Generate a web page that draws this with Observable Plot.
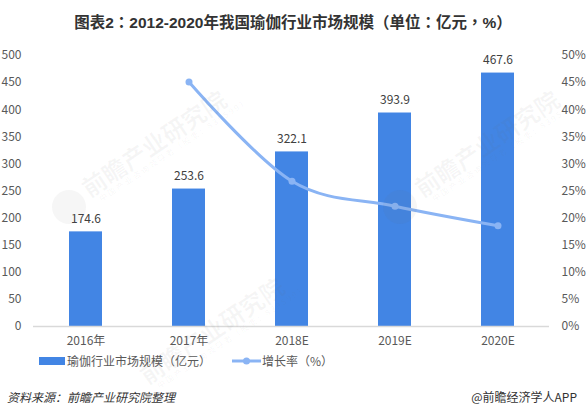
<!DOCTYPE html>
<html><head><meta charset="utf-8">
<script src="https://cdn.jsdelivr.net/npm/d3@7"></script>
<script src="https://cdn.jsdelivr.net/npm/@observablehq/plot@0.6"></script>
<style>
html,body{margin:0;padding:0;background:#fff;overflow:hidden}
body{width:586px;height:416px;position:relative;font-family:"Noto Sans CJK SC","Noto Sans",sans-serif;color:#595959}
#title{position:absolute;left:0;top:12px;width:586px;text-align:center;font-family:"Liberation Sans","Noto Sans CJK TC",sans-serif;font-size:15.5px;font-weight:700;color:#333;line-height:22px;white-space:nowrap}
#chart{position:absolute;left:0;top:42px}
#legend{position:absolute;top:352px;left:39px;height:18px;font-size:12px;line-height:18px;white-space:nowrap}
#legend .sw{position:absolute;top:5px;left:0;width:26px;height:8px;background:#4285e4}
#legend .t1{position:absolute;left:28px;top:0}
#legend svg{position:absolute;left:193px;top:0}
#legend .t2{position:absolute;left:223px;top:0}
#src{position:absolute;left:7px;top:388px;font-size:12px;font-style:italic;color:#333;line-height:18px;white-space:nowrap}
#brand{position:absolute;right:9px;top:388px;font-size:12px;color:#333;line-height:18px;white-space:nowrap}
.wm{position:absolute;pointer-events:none;transform:rotate(-34deg);transform-origin:0 50%;white-space:nowrap;color:rgba(110,110,110,.06);font-size:24px;font-weight:700;line-height:28px}
.wm small{position:absolute;left:8px;top:26px;font-size:8px;font-weight:400;letter-spacing:2px;line-height:10px}
.logo{position:absolute;pointer-events:none;width:34px;height:34px;border-radius:50%;background:rgba(110,110,110,.06)}
</style></head><body>
<div id="title">图表2：2012-2020年我国瑜伽行业市场规模（单位：亿元，%）</div>
<div id="chart"></div>
<div class="logo" style="left:52px;top:190px"></div>
<div class="wm" style="left:84px;top:176px">前瞻产业研究院<small>中国产业咨询领导者（股票：839599）</small></div>
<div class="wm" style="left:142px;top:363px">前瞻产业研究院<small>中国产业咨询领导者（股票：839599）</small></div>
<div class="logo" style="left:383px;top:190px"></div>
<div class="wm" style="left:417px;top:176px">前瞻产业研究院<small>中国产业咨询领导者（股票：839599）</small></div>
<div id="legend"><span class="sw"></span><span class="t1">瑜伽行业市场规模（亿元）</span>
<svg width="30" height="18"><line x1="0" x2="29" y1="9" y2="9" stroke="#8ab4f4" stroke-width="3"/><circle cx="14.500" cy="9" r="3.500" fill="#8ab4f4"/></svg>
<span class="t2">增长率（%）</span></div>
<div id="src">资料来源：前瞻产业研究院整理</div>
<div id="brand">@前瞻经济学人APP</div>
<script>
const years = ["2016年","2017年","2018E","2019E","2020E"];
const market = [174.6,253.6,322.1,393.9,467.6];
const growthYears = ["2017年","2018E","2019E","2020E"];
const growth = [45.1,26.8,22.2,18.6];
const leftTicks = [0,50,100,150,200,250,300,350,400,450,500];
const pctPerUnit = 10;
const font = '"Noto Sans CJK SC","Noto Sans",sans-serif';
const bars = years.map((year,i)=>({year,value:market[i]}));
const line = growthYears.map((year,i)=>({year,value:growth[i]*pctPerUnit}));
const plot = Plot.plot({
  width:586,height:308,
  marginLeft:33,marginRight:37,marginTop:13,marginBottom:24,
  style:{fontFamily:font,fontSize:"12px",color:"#595959",background:"transparent"},
  x:{domain:years,paddingInner:0.68,paddingOuter:0.34,label:null},
  y:{domain:[0,500],label:null},
  marks:[
    Plot.barY(bars,{x:"year",y:"value",fill:"#4285e4"}),
    Plot.ruleY([0],{stroke:"#d9d9d9",strokeWidth:1.500}),
    Plot.line(line,{x:"year",y:"value",stroke:"#8ab4f4",strokeWidth:3,curve:"cardinal"}),
    Plot.dot(line,{x:"year",y:"value",fill:"#8ab4f4",r:3.500}),
    Plot.text(bars,{x:"year",y:"value",text:d=>d.value.toFixed(1),dy:-13,fill:"#404040",fontSize:12}),
    Plot.axisX({tickSize:0,tickPadding:10,label:null,fontSize:12,color:"#595959"}),
    Plot.axisY(leftTicks,{anchor:"left",tickSize:0,tickPadding:12,label:null,fontSize:12,color:"#595959"}),
    Plot.axisY(leftTicks,{anchor:"right",tickSize:0,tickPadding:12,label:null,fontSize:12,color:"#595959",textAnchor:"start",tickFormat:d=>d/pctPerUnit+"%"})
  ]
});
document.getElementById("chart").append(plot);
</script>
</body></html>
